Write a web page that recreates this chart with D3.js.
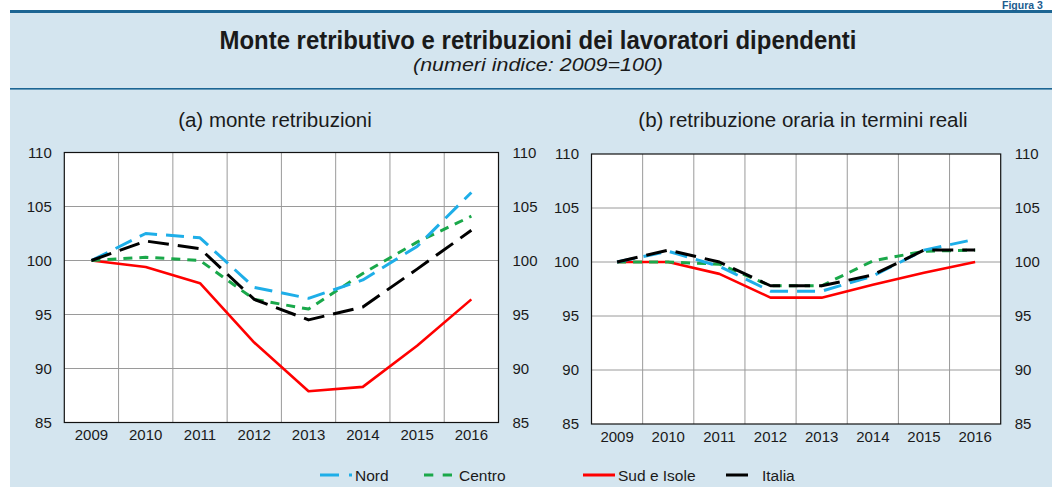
<!DOCTYPE html>
<html><head><meta charset="utf-8">
<script src="https://cdn.jsdelivr.net/npm/d3@7"></script>
<style>
html,body{margin:0;padding:0;background:#fff;}
svg{display:block;font-family:"Liberation Sans",Arial,sans-serif;}
</style></head>
<body>
<svg id="chart" width="1052" height="488"></svg>
<script>
const years = ["2009","2010","2011","2012","2013","2014","2015","2016"];
const yTicks = [85, 90, 95, 100, 105, 110];

// (a) monte retribuzioni
const aNord   = [100, 102.5, 102.1, 97.5, 96.5, 98.2, 101.3, 106.3];
const aCentro = [100, 100.3, 100.0, 96.4, 95.5, 98.8, 101.7, 104.1];
const aSud    = [100, 99.4, 97.9, 92.4, 87.9, 88.3, 92.1, 96.4];
const aItalia = [100, 101.8, 101.1, 96.4, 94.5, 95.7, 99.2, 102.8];

// (b) retribuzione oraria in termini reali
const bNord   = [100, 101.0, 99.6, 97.3, 97.3, 98.7, 101.1, 102.1];
const bCentro = [100, 100.0, 99.8, 97.8, 97.8, 100.1, 101.0, 101.1];
const bSud    = [100, 100.0, 98.9, 96.7, 96.7, 97.9, 99.0, 100.0];
const bItalia = [100, 101.1, 100.0, 97.8, 97.8, 98.8, 101.1, 101.1];

const seriesNames = ["Nord", "Centro", "Sud e Isole", "Italia"];
const colors = {"Nord":"#1eaee8", "Centro":"#1aa84a", "Sud e Isole":"#ff0000", "Italia":"#000000"};
const dashes = {"Nord":"18,9", "Centro":"9,7", "Sud e Isole":null, "Italia":"21,9"};
const widths = {"Nord":3, "Centro":3, "Sud e Isole":2.6, "Italia":3};

const svg = d3.select("#chart");
const bg = "#d4e5ef";
const dark = "#1c6593";
const txt = "#1a1a1a";

// panel
svg.append("rect").attr("x",10).attr("y",12).attr("width",1042).attr("height",475).attr("fill",bg);
svg.append("rect").attr("x",10).attr("y",10).attr("width",1042).attr("height",3).attr("fill",dark);
svg.append("rect").attr("x",10).attr("y",88).attr("width",1042).attr("height",1.6).attr("fill",dark);
svg.append("text").attr("x",1002).attr("y",8.5).attr("font-size",10.5).attr("font-weight","bold")
  .attr("fill","#1b5c8f").text("Figura 3");

svg.append("text").attr("x",538).attr("y",49).attr("text-anchor","middle")
  .attr("font-family","'Liberation Sans Narrow','Liberation Sans',Arial,sans-serif")
  .attr("font-size",25).attr("font-weight","bold").attr("fill",txt)
  .attr("textLength",637).attr("lengthAdjust","spacingAndGlyphs")
  .text("Monte retributivo e retribuzioni dei lavoratori dipendenti");
svg.append("text").attr("x",538).attr("y",71).attr("text-anchor","middle")
  .attr("font-family","'Liberation Sans Narrow','Liberation Sans',Arial,sans-serif")
  .attr("font-size",19).attr("font-style","italic").attr("fill",txt)
  .attr("textLength",250).attr("lengthAdjust","spacingAndGlyphs")
  .text("(numeri indice: 2009=100)");

function panel(cfg){
  const {x0,x1,y0,y1,title,titleX,data} = cfg;
  const x = d3.scaleBand().domain(years).range([x0,x1]).paddingInner(0).paddingOuter(0);
  const y = d3.scaleLinear().domain([85,110]).range([y1,y0]);
  const g = svg.append("g");
  g.append("rect").attr("x",x0).attr("y",y0).attr("width",x1-x0).attr("height",y1-y0).attr("fill","#fff");
  // grid
  g.selectAll(".hg").data(yTicks.slice(1,-1)).enter().append("line")
    .attr("x1",x0).attr("x2",x1).attr("y1",d=>y(d)).attr("y2",d=>y(d))
    .attr("stroke","#9a9a9a").attr("stroke-width",1);
  g.selectAll(".vg").data(years.slice(1)).enter().append("line")
    .attr("x1",d=>x(d)).attr("x2",d=>x(d)).attr("y1",y0).attr("y2",y1)
    .attr("stroke","#9a9a9a").attr("stroke-width",1);
  g.append("rect").attr("x",x0).attr("y",y0).attr("width",x1-x0).attr("height",y1-y0)
    .attr("fill","none").attr("stroke","#111").attr("stroke-width",1.2);
  // axes
  const yl = d3.axisLeft(y).tickValues(yTicks).tickSize(0).tickPadding(12.5);
  const yr = d3.axisRight(y).tickValues(yTicks).tickSize(0).tickPadding(14);
  const xb = d3.axisBottom(x).tickSize(0).tickPadding(7);
  const ga = g.append("g").attr("transform",`translate(${x0},0)`).call(yl);
  const gb = g.append("g").attr("transform",`translate(${x1},0)`).call(yr);
  const gc = g.append("g").attr("transform",`translate(0,${y1})`).call(xb);
  [ga,gb,gc].forEach(a=>{
    a.select(".domain").remove();
    a.selectAll("text").attr("font-size",15).attr("fill",txt)
      .attr("font-family","'Liberation Sans',Arial,sans-serif");
  });
  g.append("text").attr("x",titleX).attr("y",127).attr("text-anchor","middle")
    .attr("font-size",20.5).attr("fill",txt).text(title);
  const line = d3.line().x((d,i)=>x(years[i])+x.bandwidth()/2).y(d=>y(d));
  // draw order: Sud, Centro, Nord, Italia
  ["Sud e Isole","Centro","Nord","Italia"].forEach(name=>{
    g.append("path").datum(data[name]).attr("d",line)
      .attr("fill","none").attr("stroke",colors[name]).attr("stroke-width",widths[name])
      .attr("stroke-dasharray",dashes[name]).attr("stroke-linejoin","round");
  });
}

panel({x0:64.3,x1:498.5,y0:152.5,y1:422.5,title:"(a) monte retribuzioni",titleX:275,
  data:{"Nord":aNord,"Centro":aCentro,"Sud e Isole":aSud,"Italia":aItalia}});
panel({x0:591.5,x1:1000.7,y0:154,y1:424,title:"(b) retribuzione oraria in termini reali",titleX:803,
  data:{"Nord":bNord,"Centro":bCentro,"Sud e Isole":bSud,"Italia":bItalia}});

// legend
const legend = [
  {name:"Nord", x1:320, x2:352, tx:355},
  {name:"Centro", x1:424, x2:452, tx:459},
  {name:"Sud e Isole", x1:583, x2:615, tx:618},
  {name:"Italia", x1:726, x2:748, tx:762}
];
const lg = svg.append("g");
legend.forEach(l=>{
  lg.append("line").attr("x1",l.x1).attr("x2",l.x2).attr("y1",475).attr("y2",475)
    .attr("stroke",colors[l.name]).attr("stroke-width",3)
    .attr("stroke-dasharray", l.name==="Nord" ? "19,10" : (l.name==="Centro" ? "9.3,9.4" : null));
  lg.append("text").attr("x",l.tx).attr("y",481).attr("font-size",15.5).attr("fill",txt).text(l.name);
});
</script>
</body></html>
